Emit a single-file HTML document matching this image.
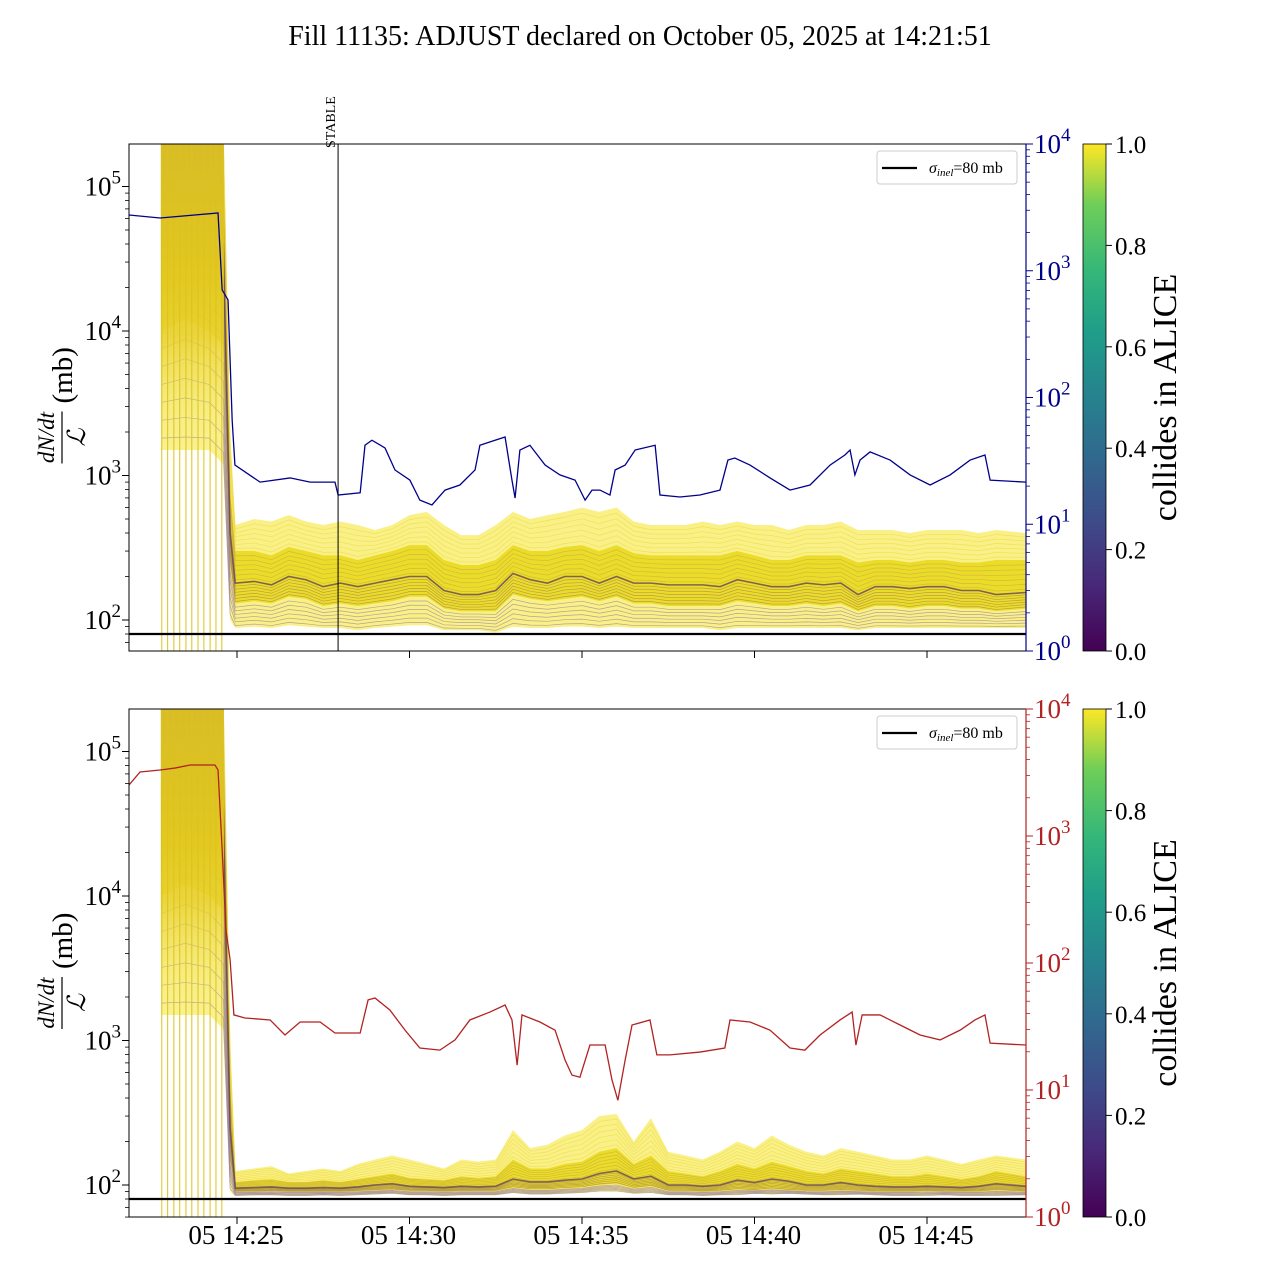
<!DOCTYPE html>
<html><head><meta charset="utf-8"><style>
html,body{margin:0;padding:0;background:#fff;}
svg{display:block;font-family:"Liberation Serif",serif;}
</style></head><body>
<svg id="chart" width="1280" height="1280" viewBox="0 0 1280 1280" xmlns="http://www.w3.org/2000/svg">
<defs>
<linearGradient id="viridis" x1="0" y1="1" x2="0" y2="0">
<stop offset="0" stop-color="#440154"/><stop offset="0.13" stop-color="#482878"/><stop offset="0.25" stop-color="#3e4a89"/><stop offset="0.38" stop-color="#31688e"/><stop offset="0.5" stop-color="#26828e"/><stop offset="0.63" stop-color="#1f9e89"/><stop offset="0.75" stop-color="#35b779"/><stop offset="0.88" stop-color="#6ece58"/><stop offset="1" stop-color="#fde725"/>
</linearGradient>
<linearGradient id="earlyFade" x1="0" y1="0" x2="0" y2="1">
<stop offset="0" stop-color="#d8bc28"/><stop offset="0.4" stop-color="#e2c820"/><stop offset="0.58" stop-color="#e8d030" stop-opacity="0.85"/><stop offset="0.8" stop-color="#f0e060" stop-opacity="0.25"/><stop offset="1" stop-color="#fff" stop-opacity="0"/>
</linearGradient>
<clipPath id="clipTop"><rect x="129" y="144" width="897" height="507"/></clipPath>
<clipPath id="clipBot"><rect x="129" y="709" width="897" height="508"/></clipPath>
</defs>
<text x="640" y="45" text-anchor="middle" font-size="28">Fill 11135: ADJUST declared on October 05, 2025 at 14:21:51</text>
<g id="top"></g>
<g id="bot"></g>
</svg>
<script>
// ---- data (times in minutes after 14:20) ----
const blueTimes=[1.87,2.77,4.45,4.57,4.74,4.86,4.94,5.67,6.54,7.12,7.84,7.93,8.57,8.71,8.91,9.29,9.58,10.01,10.30,10.65,11.03,11.46,11.90,12.04,12.48,12.77,12.97,13.06,13.20,13.49,13.93,14.36,14.80,15.09,15.29,15.52,15.81,15.96,16.25,16.54,17.12,17.26,17.84,18.42,19.00,19.23,19.43,19.87,20.45,21.03,21.61,22.19,22.62,22.77,22.91,23.06,23.35,23.93,24.51,25.09,25.67,26.25,26.68,26.83,27.87];
const blueValues=[2754,2606,2857,705,588,66,29.3,21.5,23.2,21.5,21.5,17,17.7,42,46,40,26.8,22.3,15.5,14.2,18.6,20.4,26.8,42,46,48.8,22.3,16.1,38.5,42,29.3,24.5,22.3,15.5,18.6,18.6,17,26.8,29.3,38.5,42,17,16.4,17,18.6,32.1,33.3,29.3,23.2,18.6,20.4,29.3,35.2,38.5,24.5,32.1,37.2,32.1,24.5,20.4,24.5,32.1,35.2,22.3,21.5];
const redTimes=[1.87,2.19,2.77,3.20,3.64,4.36,4.45,4.57,4.68,4.80,4.91,5.23,5.96,6.39,6.83,7.41,7.84,8.57,8.80,9.00,9.43,9.87,10.30,10.88,11.32,11.75,12.33,12.77,12.97,13.12,13.26,13.78,14.22,14.51,14.71,14.94,15.23,15.67,15.87,16.04,16.25,16.45,16.97,17.17,17.55,18.42,19.14,19.29,19.87,20.45,21.03,21.46,21.90,22.48,22.83,22.94,23.12,23.64,24.22,24.80,25.38,25.96,26.39,26.68,26.83,27.87];
const redValues=[2523,3192,3311,3428,3622,3622,3311,776,182,106,39,36.9,35.6,27.1,34.3,34.3,28.1,28.1,51.2,53,42.7,29.6,21.4,20.6,24.8,35.6,41.1,46.7,35.6,15.7,39,34.3,29.6,17.2,13.1,12.6,22.6,22.6,12.0,8.3,17.2,32.5,35.6,18.9,18.9,19.9,21.4,35.6,34.3,29.6,21.4,20.6,27.1,35.6,41.1,22.6,39,39,32.5,27.1,24.8,29.6,35.6,39,23.4,22.6];
const bundleTimes=[2.8,3.5,4.2,4.6,4.8,4.95,5.5,6,6.5,7,7.5,8,8.5,9,9.5,10,10.5,11,11.5,12,12.5,13,13.5,14,14.5,15,15.5,16,16.5,17,17.5,18,18.5,19,19.5,20,20.5,21,21.5,22,22.5,23,23.5,24,24.5,25,25.5,26,26.5,27,27.87];
const topHi=[3e5,3e5,3e5,3e5,2000,454,500,480,532,480,454,480,454,420,454,532,560,454,387,387,454,560,500,532,560,600,560,600,480,454,454,454,480,454,480,454,454,420,454,454,480,420,420,420,400,420,420,420,400,420,400];
const topQ75=[2e5,2e5,2e5,1.5e5,800,300,300,280,320,300,280,280,260,280,300,330,330,260,240,240,260,330,300,300,320,330,300,330,290,280,280,280,280,280,300,280,260,260,280,280,280,250,260,260,250,260,260,250,250,260,260];
const topMed=[5e4,6e4,5e4,4e4,400,180,185,175,200,190,170,180,170,180,190,200,200,160,150,150,160,210,190,180,200,200,180,200,180,180,175,175,175,170,190,180,170,170,180,175,180,150,170,170,165,170,170,160,160,150,155];
const topQ25=[1e4,1.2e4,1e4,8000,250,130,135,130,145,140,125,130,125,130,135,145,145,120,115,115,115,150,140,135,140,145,135,145,130,130,125,125,125,125,135,130,125,125,130,125,130,115,125,125,120,125,125,120,120,115,120];
const topLo=[1500,1500,1500,1200,100,88,90,88,92,90,88,88,85,88,90,92,92,85,85,85,82,90,88,88,90,90,88,90,88,88,88,88,88,85,88,88,88,88,88,88,88,85,88,88,88,88,88,88,88,88,88];
const botHi=[3e5,3e5,3e5,3e5,1000,125,130,135,120,125,130,125,140,150,160,150,140,130,150,145,150,240,180,190,220,240,300,310,200,290,170,160,150,170,200,180,220,190,170,160,180,170,160,150,150,160,150,140,150,160,150];
const botQ75=[2e5,2e5,2e5,1.5e5,500,105,108,110,105,105,108,105,110,115,120,112,110,108,115,112,115,150,130,130,140,145,170,180,140,160,125,120,115,125,140,130,145,135,125,120,130,125,120,115,115,120,115,110,115,125,115];
const botMed=[5e4,6e4,5e4,4e4,250,95,96,97,95,95,96,95,97,100,102,98,97,96,98,97,98,110,105,105,108,110,120,125,110,115,100,100,98,100,108,104,110,106,100,100,104,100,98,97,97,98,97,96,98,102,98];
const botQ25=[1e4,1.2e4,1e4,8000,150,90,90,91,90,90,90,90,91,92,93,91,91,90,91,91,91,96,93,93,95,96,100,102,95,98,91,91,90,91,93,92,94,92,91,91,92,91,90,90,90,91,90,90,90,92,90];
const botLo=[1500,1500,1500,1200,90,84,85,85,84,84,85,84,85,86,87,85,85,84,85,85,85,88,86,86,87,88,90,90,87,88,85,85,84,85,85,87,86,87,86,85,85,86,85,84,84,84,85,84,84,84,85];
const spikeTimes=[2.82,2.99,3.17,3.34,3.52,3.69,3.87,4.04,4.22,4.39,4.56];
const sigmaInel=[80];
const xTickMinutes=[5,10,15,20,25];
const xTickLabels=["05 14:25","05 14:30","05 14:35","05 14:40","05 14:45"];
const stableTime=[7.93];
const cbTicks=[0,0.2,0.4,0.6,0.8,1.0];

const NS="http://www.w3.org/2000/svg";
function mk(tag,attrs,parent){const e=document.createElementNS(NS,tag);for(const k in attrs)e.setAttribute(k,String(attrs[k]));if(parent)parent.appendChild(e);return e;}
function sup(parent,x,y,base,ex,fill,anchor){
  const t=mk('text',{x:x,y:y,'font-size':'27',fill:fill,'text-anchor':anchor},parent);
  const a=document.createElementNS(NS,'tspan');a.textContent=base;t.appendChild(a);
  const b=document.createElementNS(NS,'tspan');b.setAttribute('dy','-12');b.setAttribute('font-size','19');b.textContent=ex;t.appendChild(b);
  return t;
}
const xs=m=>237+(m-5)*34.5;
const L=v=>Math.log10(v);

function panel(g,cfg){
  const top=cfg.top,bottom=cfg.bottom,yL=cfg.yL,yR=cfg.yR,rightColor=cfg.rightColor;
  const hi=cfg.hi,q75=cfg.q75,med=cfg.med,q25=cfg.q25,lo=cfg.lo;
  const n=bundleTimes.length;
  const plot=mk('g',{'clip-path':'url(#'+cfg.clip+')'},g);
  try{
  const bandPts=(a,b)=>{let s='';for(let i=0;i<n;i++)s+=xs(bundleTimes[i])+','+yL(a[i])+' ';for(let i=n-1;i>=0;i--)s+=xs(bundleTimes[i])+','+yL(b[i])+' ';return s;};
  const outer=mk('polygon',{points:bandPts(hi,lo),fill:'#f8ec6a','fill-opacity':'0.8'},plot);
  
  
  const inner=mk('polygon',{points:bandPts(q75,q25),fill:'#ecdc2a'},plot);
  
  
  const fr=[0.15,0.3,0.45,0.6,0.75,0.9];
  const groups=[[hi,q75,'#f0dc40'],[q75,med,'#c8ae3a'],[med,q25,'#a48650'],[q25,lo,'#9a80a0']];
  groups.forEach(function(gr){
    fr.forEach(function(f){let d='';for(let i=0;i<n;i++){const v=Math.pow(10,L(gr[0][i])*(1-f)+L(gr[1][i])*f);d+=(i?'L':'M')+xs(bundleTimes[i])+','+yL(v);}
      const p=mk('path',{d:d,fill:'none',stroke:gr[2],'stroke-width':'0.7','stroke-opacity':'0.7'},plot);
      
      });
  });
  let dm='';for(let i=0;i<n;i++)dm+=(i?'L':'M')+xs(bundleTimes[i])+','+yL(med[i]);
  const medl=mk('path',{d:dm,fill:'none',stroke:'#5b3a60','stroke-width':'1.6','stroke-opacity':'0.75'},plot);
  
  
  const er=mk('rect',{x:xs(spikeTimes[0])-1,y:top,width:xs(4.62)-xs(spikeTimes[0])+1,height:(bottom-top)*0.65,fill:'url(#earlyFade)'},plot);
  
  
  spikeTimes.forEach(function(t){const l=mk('line',{x1:xs(t),x2:xs(t),y1:top,y2:bottom,stroke:'#dcc21a','stroke-width':'1'},plot);
    
    });
  const sl=mk('line',{x1:129,x2:1026,y1:yL(sigmaInel[0]),y2:yL(sigmaInel[0]),stroke:'#000','stroke-width':'2.2'},plot);
  
  
  let d='';for(let i=0;i<cfg.lineTimes.length;i++)d+=(i?'L':'M')+xs(cfg.lineTimes[i])+','+yR(cfg.lineVals[i]);
  const rl=mk('path',{d:d,fill:'none',stroke:rightColor,'stroke-width':'1.3'},plot);
  
  
  }catch(e){}
  try{
  if(cfg.stable){const x=xs(stableTime[0]);
    const st=mk('line',{x1:x,x2:x,y1:top,y2:bottom,stroke:'#000','stroke-width':'1'},g);
    
    
    const tx=mk('text',{x:0,y:0,transform:'translate('+(x-3)+',148) rotate(-90)','font-size':'14'},g);tx.textContent='STABLE';
    
    }
  mk('rect',{x:129,y:top,width:897,height:bottom-top,fill:'none',stroke:'#000','stroke-width':'1'},g);
  mk('line',{x1:1026,x2:1026,y1:top,y2:bottom,stroke:rightColor,'stroke-width':'1.2'},g);
  for(let e=1;e<=5;e++){for(let k=1;k<10;k++){const v=k*Math.pow(10,e);const y=yL(v);if(y<top-0.5||y>bottom+0.5)continue;
    mk('line',{x1:129,x2:129-(k===1?7:4),y1:y,y2:y,stroke:'#000','stroke-width':k===1?1:0.8},g);
    if(k===1){const t=sup(g,121,y+9,'10',String(e),'#000','end');
      
      }}}
  for(let e=0;e<=4;e++){for(let k=1;k<10;k++){const v=k*Math.pow(10,e);const y=yR(v);if(y<top-0.5||y>bottom+0.5)continue;
    mk('line',{x1:1026,x2:1026+(k===1?7:4),y1:y,y2:y,stroke:rightColor,'stroke-width':k===1?1:0.8},g);
    if(k===1){const t=sup(g,1034,y+9,'10',String(e),rightColor,'start');
      
      }}}
  xTickMinutes.forEach(function(m,i){mk('line',{x1:xs(m),x2:xs(m),y1:bottom,y2:bottom+7,stroke:'#000'},g);
    if(cfg.showX){const t=mk('text',{x:xs(m)-1,y:bottom+27,'text-anchor':'middle','font-size':'27'},g);t.textContent=xTickLabels[i];
      
      }});
  }catch(e){}
  try{
  const cy=(top+bottom)/2;
  const yl=mk('g',{transform:'translate(62,'+cy+') rotate(-90)'},g);
  
  
  const nn=mk('text',{x:-40,y:-8,'text-anchor':'middle','font-size':'23','font-style':'italic'},yl);nn.textContent='dN/dt';
  mk('line',{x1:-66,x2:-14,y1:0,y2:0,stroke:'#000','stroke-width':'1.2'},yl);
  const dd=mk('text',{x:-40,y:23,'text-anchor':'middle','font-size':'25','font-style':'italic'},yl);dd.textContent='ℒ';
  const mb=mk('text',{x:-6,y:10,'font-size':'29'},yl);mb.textContent='(mb)';
  const lg=mk('g',{},g);
  
  
  mk('rect',{x:877,y:top+7,width:140,height:33,rx:3,fill:'#fff',stroke:'#ccc','stroke-width':'1'},lg);
  mk('line',{x1:882,x2:917,y1:top+24,y2:top+24,stroke:'#000','stroke-width':'2.2'},lg);
  const lt=mk('text',{x:929,y:top+29,'font-size':'16'},lg);
  const s1=document.createElementNS(NS,'tspan');s1.setAttribute('font-style','italic');s1.textContent='σ';lt.appendChild(s1);
  const s2=document.createElementNS(NS,'tspan');s2.setAttribute('font-style','italic');s2.setAttribute('font-size','11');s2.setAttribute('dy','3');s2.textContent='inel';lt.appendChild(s2);
  const s3=document.createElementNS(NS,'tspan');s3.setAttribute('dy','-3');s3.textContent='=80 mb';lt.appendChild(s3);
  const cb=mk('g',{},g);
  
  
  mk('rect',{x:1083,y:top,width:23,height:bottom-top,fill:'url(#viridis)',stroke:'#000','stroke-width':'0.8'},cb);
  cbTicks.forEach(function(v){const y=bottom-v*(bottom-top);mk('line',{x1:1106,x2:1112,y1:y,y2:y,stroke:'#000'},cb);
    const t=mk('text',{x:1115,y:y+9,'font-size':'25'},cb);t.textContent=v.toFixed(1);
    
    });
  const cl=mk('text',{x:0,y:0,transform:'translate(1176,'+cy+') rotate(-90)','text-anchor':'middle','font-size':'34'},cb);cl.textContent='collides in ALICE';
  
  
  }catch(e){}
}
try{
panel(document.getElementById('top'),{top:144,bottom:651,yL:function(v){return 620-(L(v)-2)*144.5;},yR:function(v){return 651-L(v)*126.75;},rightColor:'#00008b',
  lineTimes:blueTimes,lineVals:blueValues,hi:topHi,q75:topQ75,med:topMed,q25:topQ25,lo:topLo,clip:'clipTop',showX:false,stable:true});
}catch(e){}
try{
panel(document.getElementById('bot'),{top:709,bottom:1217,yL:function(v){return 1185-(L(v)-2)*144.5;},yR:function(v){return 1217-L(v)*127;},rightColor:'#b22222',
  lineTimes:redTimes,lineVals:redValues,hi:botHi,q75:botQ75,med:botMed,q25:botQ25,lo:botLo,clip:'clipBot',showX:true,stable:false});
}catch(e){}
</script>
</body></html>
